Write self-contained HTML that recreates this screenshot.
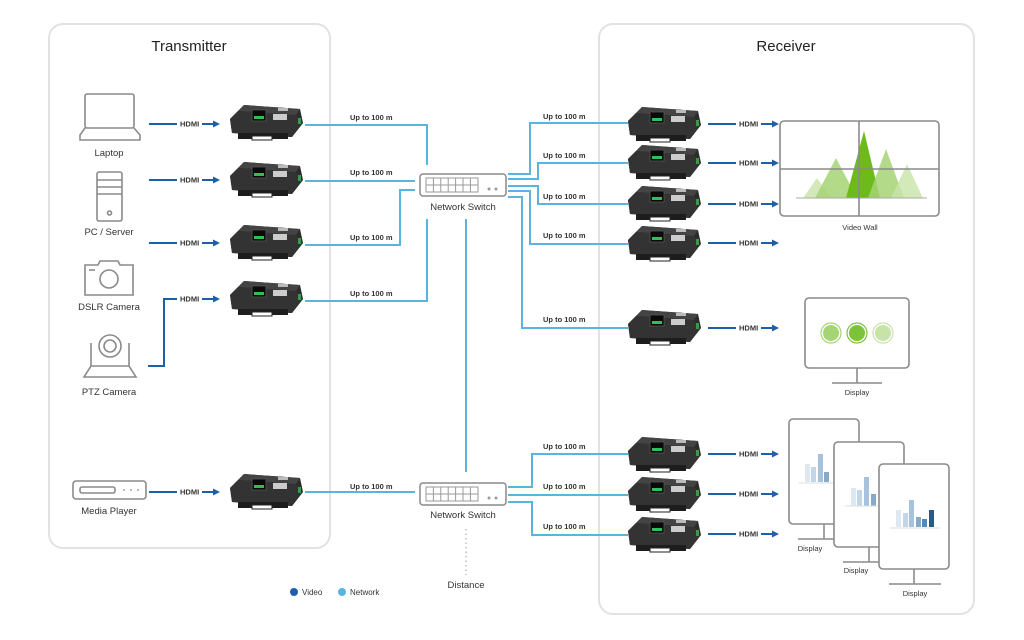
<!DOCTYPE html>
<html><head><meta charset="utf-8"><style>
html,body{margin:0;padding:0;background:#fff;width:1024px;height:640px;overflow:hidden}
svg{display:block;font-family:"Liberation Sans",sans-serif}
.g{fill:none;stroke:#8a8a8a;stroke-width:1.6}
.v{fill:none;stroke:#1f5fa8;stroke-width:2}
.n{fill:none;stroke:#5ab4e0;stroke-width:2}
.hd{font-size:7.5px;font-weight:bold;fill:#333}
.up{font-size:7.5px;font-weight:bold;fill:#333}
.lb{font-size:9.5px;fill:#333}
</style></head><body>
<svg width="1024" height="640" viewBox="0 0 1024 640">
<defs>
<g id="dev">
<polygon points="0,-4 14,-18 70,-14 73,0 62,14 2,10" fill="#2b2b2b"/>
<polygon points="14,-18 70,-14 66,-8 8,-12" fill="#444"/>
<polygon points="0,-4 8,-12 66,-8 73,0 62,14 2,10" fill="#333"/>
<rect x="22" y="-13" width="14" height="11" fill="#0a0a0a" stroke="#555" stroke-width="0.8"/>
<rect x="24" y="-7" width="10" height="3" fill="#2fbf5a"/>
<rect x="43" y="-9" width="14" height="6" fill="#ccc"/>
<rect x="48" y="-15" width="10" height="3" fill="#bbb"/>
<rect x="68" y="-5" width="3" height="6" fill="#3b9a4a"/>
<rect x="8" y="10" width="50" height="6" fill="#1d1d1d"/>
<rect x="22" y="13" width="20" height="4" fill="#fff" stroke="#222" stroke-width="1"/>
</g>
<g id="hdmi">
<line x1="0" y1="0" x2="28" y2="0" class="v"/>
<text x="31" y="2.7" class="hd">HDMI</text>
<line x1="53" y1="0" x2="66" y2="0" class="v"/>
<polygon points="64,-3.5 71,0 64,3.5" fill="#1f5fa8"/>
</g>
<g id="sw">
<rect x="0" y="0" width="86" height="22" rx="3" fill="#fff" stroke="#8a8a8a" stroke-width="1.5"/>
<g fill="none" stroke="#9a9a9a" stroke-width="1">
<rect x="6" y="4" width="52" height="14"/>
<line x1="6" y1="11" x2="58" y2="11"/>
<line x1="13.4" y1="4" x2="13.4" y2="18"/><line x1="20.8" y1="4" x2="20.8" y2="18"/><line x1="28.2" y1="4" x2="28.2" y2="18"/><line x1="35.6" y1="4" x2="35.6" y2="18"/><line x1="43" y1="4" x2="43" y2="18"/><line x1="50.4" y1="4" x2="50.4" y2="18"/>
</g>
<circle cx="69" cy="15" r="1.5" fill="#999"/><circle cx="76" cy="15" r="1.5" fill="#999"/>
</g>
</defs>

<!-- panels -->
<rect x="49" y="24" width="281" height="524" rx="14" fill="none" stroke="#e2e2e2" stroke-width="2"/>
<rect x="599" y="24" width="375" height="590" rx="14" fill="none" stroke="#e2e2e2" stroke-width="2"/>
<text x="189" y="51" text-anchor="middle" font-size="15" fill="#222">Transmitter</text>
<text x="786" y="51" text-anchor="middle" font-size="15" fill="#222">Receiver</text>

<!-- source icons -->
<rect x="85" y="94" width="49" height="34" rx="2" class="g"/>
<path d="M85 128 L80 135 L80 140 L140 140 L140 135 L134 128" class="g"/>
<text x="109" y="156" text-anchor="middle" class="lb">Laptop</text>
<rect x="97" y="172" width="25" height="49" rx="2" class="g"/>
<line x1="97" y1="180" x2="122" y2="180" class="g"/><line x1="97" y1="187" x2="122" y2="187" class="g"/><line x1="97" y1="194" x2="122" y2="194" class="g"/>
<circle cx="109.5" cy="213" r="2" class="g"/>
<text x="109" y="235" text-anchor="middle" class="lb">PC / Server</text>
<path d="M85 265 L98 265 L100 261 L118 261 L120 265 L133 265 L133 295 L85 295 Z" class="g"/>
<circle cx="109" cy="279" r="9" class="g"/><line x1="89" y1="270" x2="95" y2="270" class="g"/>
<text x="109" y="310" text-anchor="middle" class="lb">DSLR Camera</text>
<circle cx="110" cy="346" r="11" class="g"/><circle cx="110" cy="346" r="6" class="g"/>
<path d="M91 343 L91 366 L84 377 L136 377 L129 366 L129 343 M91 366 L129 366" class="g"/>
<text x="109" y="395" text-anchor="middle" class="lb">PTZ Camera</text>
<rect x="73" y="481" width="73" height="18" rx="3" class="g"/>
<rect x="80" y="487" width="35" height="6" rx="2" class="g"/>
<circle cx="124" cy="490" r="0.9" fill="#888"/><circle cx="131" cy="490" r="0.9" fill="#888"/><circle cx="138" cy="490" r="0.9" fill="#888"/>
<text x="109" y="514" text-anchor="middle" class="lb">Media Player</text>

<!-- TX hdmi -->
<use href="#hdmi" x="149" y="124"/>
<use href="#hdmi" x="149" y="180"/>
<use href="#hdmi" x="149" y="243"/>
<path d="M148 366 L164 366 L164 299 L177 299" class="v"/>
<text x="180" y="301.7" class="hd">HDMI</text>
<line x1="202" y1="299" x2="215" y2="299" class="v"/><polygon points="213,295.5 220,299 213,302.5" fill="#1f5fa8"/>
<use href="#hdmi" x="149" y="492"/>

<!-- TX devices -->
<use href="#dev" x="230" y="123"/>
<use href="#dev" x="230" y="180"/>
<use href="#dev" x="230" y="243"/>
<use href="#dev" x="230" y="299"/>
<use href="#dev" x="230" y="492"/>

<!-- network lines left -->
<path d="M305 125 L427 125 L427 165" class="n"/>
<path d="M305 181 L415 181" class="n"/>
<path d="M305 245 L400 245 L400 190 L415 190" class="n"/>
<path d="M305 301 L427 301 L427 219" class="n"/>
<path d="M466 219 L466 472" class="n"/>
<path d="M305 492 L415 492" class="n"/>
<text x="350" y="120" class="up">Up to 100 m</text>
<text x="350" y="175" class="up">Up to 100 m</text>
<text x="350" y="240" class="up">Up to 100 m</text>
<text x="350" y="296" class="up">Up to 100 m</text>
<text x="350" y="489" class="up">Up to 100 m</text>

<!-- switches -->
<use href="#sw" x="420" y="174"/>
<text x="463" y="210" text-anchor="middle" class="lb">Network Switch</text>
<use href="#sw" x="420" y="483"/>
<text x="463" y="518" text-anchor="middle" class="lb">Network Switch</text>
<line x1="466" y1="529" x2="466" y2="575" stroke="#aaa" stroke-width="1.2" stroke-dasharray="1.5,3"/>
<text x="466" y="588" text-anchor="middle" class="lb">Distance</text>

<!-- network lines right -->
<path d="M508 174 L530 174 L530 123 L628 123" class="n"/>
<path d="M508 179 L538 179 L538 163 L628 163" class="n"/>
<path d="M508 186 L538 186 L538 204 L628 204" class="n"/>
<path d="M508 191 L530 191 L530 244 L628 244" class="n"/>
<path d="M508 197 L522 197 L522 328 L628 328" class="n"/>
<path d="M508 487 L532 487 L532 454 L628 454" class="n"/>
<path d="M508 495 L628 495" class="n"/>
<path d="M508 502 L532 502 L532 535 L628 535" class="n"/>
<text x="543" y="119" class="up">Up to 100 m</text>
<text x="543" y="158" class="up">Up to 100 m</text>
<text x="543" y="199" class="up">Up to 100 m</text>
<text x="543" y="238" class="up">Up to 100 m</text>
<text x="543" y="322" class="up">Up to 100 m</text>
<text x="543" y="449" class="up">Up to 100 m</text>
<text x="543" y="489" class="up">Up to 100 m</text>
<text x="543" y="529" class="up">Up to 100 m</text>

<!-- RX devices -->
<use href="#dev" x="628" y="125"/>
<use href="#dev" x="628" y="163"/>
<use href="#dev" x="628" y="204"/>
<use href="#dev" x="628" y="244"/>
<use href="#dev" x="628" y="328"/>
<use href="#dev" x="628" y="455"/>
<use href="#dev" x="628" y="495"/>
<use href="#dev" x="628" y="535"/>
<use href="#hdmi" x="708" y="124"/>
<use href="#hdmi" x="708" y="163"/>
<use href="#hdmi" x="708" y="204"/>
<use href="#hdmi" x="708" y="243"/>
<use href="#hdmi" x="708" y="328"/>
<use href="#hdmi" x="708" y="454"/>
<use href="#hdmi" x="708" y="494"/>
<use href="#hdmi" x="708" y="534"/>

<!-- video wall -->
<polygon points="803,198 817,178 831,198" fill="#c8e3a8" opacity="0.8"/>
<polygon points="815,198 836,158 857,198" fill="#a6d474" opacity="0.85"/>
<polygon points="846,198 864,131 880,198" fill="#6cbb1a"/>
<polygon points="868,198 886,149 904,198" fill="#a6d474" opacity="0.85"/>
<polygon points="891,198 907,164 923,198" fill="#c8e3a8" opacity="0.8"/>
<line x1="796" y1="198" x2="927" y2="198" stroke="#aaa" stroke-width="1"/>
<rect x="780" y="121" width="159" height="95" rx="4" class="g"/>
<line x1="859" y1="121" x2="859" y2="216" class="g"/><line x1="780" y1="169" x2="939" y2="169" class="g"/>
<text x="860" y="230" text-anchor="middle" font-size="7.5" fill="#333">Video Wall</text>

<!-- display -->
<rect x="805" y="298" width="104" height="70" rx="4" class="g"/>
<line x1="857" y1="368" x2="857" y2="383" class="g"/><line x1="832" y1="383" x2="882" y2="383" class="g"/>
<circle cx="831" cy="333" r="10" fill="#fff" stroke="#a6d474" stroke-width="1.2"/><circle cx="831" cy="333" r="8" fill="#a6d474"/>
<circle cx="857" cy="333" r="10" fill="#fff" stroke="#7cc23a" stroke-width="1.2"/><circle cx="857" cy="333" r="8" fill="#7cc23a"/>
<circle cx="883" cy="333" r="10" fill="#fff" stroke="#c8e3a8" stroke-width="1.2"/><circle cx="883" cy="333" r="8" fill="#c8e3a8"/>
<text x="857" y="395" text-anchor="middle" font-size="7.5" fill="#333">Display</text>

<!-- tall displays -->
<g>
<rect x="789" y="419" width="70" height="105" rx="4" fill="#fff" stroke="#8a8a8a" stroke-width="1.6"/>
<line x1="824" y1="524" x2="824" y2="539" class="g"/><line x1="798" y1="539" x2="850" y2="539" class="g"/>
<rect x="805" y="464" width="5" height="18" fill="#dde8f3"/><rect x="811" y="467" width="5" height="15" fill="#c3d6e8"/><rect x="818" y="454" width="5" height="28" fill="#a7c2dc"/><rect x="824" y="472" width="5" height="10" fill="#88a9c8"/>
<line x1="799" y1="483" x2="845" y2="483" stroke="#ddd"/>
<text x="810" y="551" text-anchor="middle" font-size="7.5" fill="#333">Display</text>
</g>
<g>
<rect x="834" y="442" width="70" height="105" rx="4" fill="#fff" stroke="#8a8a8a" stroke-width="1.6"/>
<line x1="869" y1="547" x2="869" y2="562" class="g"/><line x1="843" y1="562" x2="895" y2="562" class="g"/>
<rect x="851" y="488" width="5" height="18" fill="#dde8f3"/><rect x="857" y="490" width="5" height="16" fill="#c3d6e8"/><rect x="864" y="477" width="5" height="29" fill="#a7c2dc"/><rect x="871" y="494" width="5" height="12" fill="#88a9c8"/>
<line x1="845" y1="506" x2="888" y2="506" stroke="#ddd"/>
<text x="856" y="573" text-anchor="middle" font-size="7.5" fill="#333">Display</text>
</g>
<g>
<rect x="879" y="464" width="70" height="105" rx="4" fill="#fff" stroke="#8a8a8a" stroke-width="1.6"/>
<line x1="914" y1="569" x2="914" y2="584" class="g"/><line x1="889" y1="584" x2="941" y2="584" class="g"/>
<rect x="896" y="510" width="5" height="17" fill="#dde8f3"/><rect x="903" y="513" width="5" height="14" fill="#c3d6e8"/><rect x="909" y="500" width="5" height="27" fill="#a7c2dc"/><rect x="916" y="517" width="5" height="10" fill="#88a9c8"/><rect x="922" y="519" width="5" height="8" fill="#5a88b5"/><rect x="929" y="510" width="5" height="17" fill="#215b90"/>
<line x1="890" y1="528" x2="940" y2="528" stroke="#ddd"/>
<text x="915" y="596" text-anchor="middle" font-size="7.5" fill="#333">Display</text>
</g>

<!-- legend -->
<circle cx="294" cy="592" r="4" fill="#1f5fa8"/>
<text x="302" y="595" font-size="8" fill="#333">Video</text>
<circle cx="342" cy="592" r="4" fill="#5ab4e0"/>
<text x="350" y="595" font-size="8" fill="#333">Network</text>
</svg>
</body></html>
